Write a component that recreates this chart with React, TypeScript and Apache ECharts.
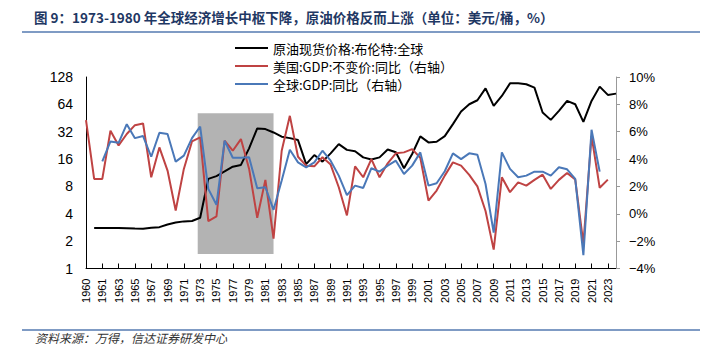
import React, { useEffect, useRef } from 'react';
import * as echarts from 'echarts';

const years = [
  '1959', '1960', '1961', '1962', '1963', '1964', '1965', '1966', '1967', '1968',
  '1969', '1970', '1971', '1972', '1973', '1974', '1975', '1976', '1977', '1978',
  '1979', '1980', '1981', '1982', '1983', '1984', '1985', '1986', '1987', '1988',
  '1989', '1990', '1991', '1992', '1993', '1994', '1995', '1996', '1997', '1998',
  '1999', '2000', '2001', '2002', '2003', '2004', '2005', '2006', '2007', '2008',
  '2009', '2010', '2011', '2012', '2013', '2014', '2015', '2016', '2017', '2018',
  '2019', '2020', '2021', '2022', '2023', '2024',
];

// 原油现货价格:布伦特:全球 (美元/桶, left log axis)
const brent = [
  null, 2.79, 2.79, 2.79, 2.79, 2.77, 2.75, 2.74, 2.81, 2.85,
  3.05, 3.2, 3.3, 3.33, 3.62, 9.7, 10.4, 11.7, 13.2, 13.8,
  21, 34.8, 34.2, 31.4, 28.2, 27.2, 25.9, 14.1, 17.7, 15.0,
  18.5, 23.4, 20.2, 19.5, 16.7, 15.8, 16.7, 20.4, 19.0, 12.7,
  18.2, 28.4, 24.4, 24.8, 28.6, 38.8, 53.4, 64.2, 71.0, 96.1,
  61.6, 79.2, 109, 109, 106.4, 97.8, 52.0, 43.2, 54.3, 69.8,
  64.2, 41.1, 69.8, 100.3, 81.3, 84.0,
];

// 美国:GDP:不变价:同比 (%, right axis)
const usGdp = [
  6.84, 2.55, 2.55, 6.07, 5.0, 5.83, 6.48, 6.6, 2.67, 4.85,
  3.16, 0.24, 3.28, 5.29, 5.58, -0.53, -0.19, 5.34, 4.61, 5.46,
  3.3, -0.29, 2.48, -1.82, 4.61, 7.16, 4.17, 3.52, 3.47, 4.13,
  3.6, 1.94, -0.12, 3.47, 2.67, 4.0, 2.67, 3.69, 4.42, 4.49,
  4.73, 4.1, 0.97, 1.7, 2.79, 3.76, 3.52, 2.85, 2.0, 0.2,
  -2.62, 2.67, 1.58, 2.3, 2.06, 2.48, 2.86, 1.82, 2.48, 2.98,
  2.5, -2.18, 5.7, 1.9, 2.5, null,
];

// 全球:GDP:同比 (%, right axis)
const worldGdp = [
  null, null, 3.83, 5.29, 5.19, 6.55, 5.53, 5.68, 4.17, 5.92,
  5.83, 3.81, 4.25, 5.53, 6.38, 1.82, 0.66, 5.34, 4.1, 4.1,
  4.13, 1.87, 1.94, 0.29, 2.43, 4.68, 3.76, 3.4, 3.76, 4.61,
  3.88, 2.79, 1.36, 2.06, 1.89, 3.33, 3.08, 3.52, 3.88, 2.91,
  3.52, 4.49, 2.06, 2.23, 3.11, 4.42, 4.0, 4.42, 4.32, 2.18,
  -1.38, 4.49, 3.28, 2.67, 2.79, 3.08, 3.08, 2.79, 3.4, 3.25,
  2.55, -3.03, 6.14, 3.08, null, null,
];

// shaded period: [startYear, topValue(left axis), endYear, bottomValue(left axis)]
const shadeBox = [1972.7, 51, 1982.0, 1.445];

const seriesNames = [
  '原油现货价格:布伦特:全球',
  '美国:GDP:不变价:同比（右轴）',
  '全球:GDP:同比（右轴）',
];

const titleText = '图 9：1973-1980 年全球经济增长中枢下降，原油价格反而上涨（单位：美元/桶，%）';
const sourceText = '资料来源：万得，信达证券研发中心';

export default function App() {
  const ref = useRef<HTMLDivElement>(null);
  useEffect(() => {
    document.body.style.margin = '0';
    const chart = echarts.init(ref.current as HTMLDivElement, null, { renderer: 'svg' });
    const numFont = '"Liberation Sans", Arial, sans-serif';
    const cjkFont = '"Noto Sans CJK SC", sans-serif';
    chart.setOption({
      animation: false,
      backgroundColor: '#ffffff',
      grid: { left: 86, right: 88, top: 77, bottom: 81.5, containLabel: false },
      legend: {
        data: seriesNames,
        orient: 'vertical',
        left: 230,
        top: 36,
        itemWidth: 33,
        itemHeight: 2,
        icon: 'rect',
        itemGap: 4,
        textStyle: { fontSize: 13, lineHeight: 14, color: '#000', fontFamily: cjkFont },
      },
      xAxis: [
        {
          type: 'category',
          data: years,
          boundaryGap: false,
          axisLine: { onZero: false, lineStyle: { color: '#000', width: 1 } },
          axisTick: { show: true, inside: true, length: 5, interval: 1, lineStyle: { color: '#000' } },
          axisLabel: {
            interval: 1,
            rotate: 90,
            fontSize: 11,
            color: '#000',
            fontFamily: numFont,
            margin: 10,
            formatter: (v: string, i: number) => (i === 0 ? '1960' : v),
          },
          splitLine: { show: false },
        },
        { type: 'value', min: 1959, max: 2024, show: false },
      ],
      yAxis: [
        {
          type: 'log',
          logBase: 2,
          min: 1,
          max: 128,
          splitNumber: 7,
          position: 'left',
          axisLine: { show: true, lineStyle: { color: '#000' } },
          axisTick: { show: false },
          axisLabel: { fontSize: 14, color: '#000', margin: 13, fontFamily: numFont },
          splitLine: { show: false },
        },
        {
          type: 'value',
          min: -4,
          max: 10,
          interval: 2,
          position: 'right',
          axisLine: { show: true, lineStyle: { color: '#999' } },
          axisTick: { show: true, length: 4, lineStyle: { color: '#999' } },
          axisLabel: {
            fontSize: 13,
            color: '#000',
            margin: 13,
            fontFamily: numFont,
            formatter: (v: number) => (v < 0 ? '\u2212' + Math.abs(v) : String(v)) + '%',
          },
          splitLine: { show: false },
        },
      ],
      series: [
        {
          type: 'custom',
          xAxisIndex: 1,
          yAxisIndex: 0,
          silent: true,
          z: 1,
          encode: { x: [0, 2], y: [1, 3] },
          data: [shadeBox],
          renderItem: (params: any, api: any) => {
            const p0 = api.coord([api.value(0), api.value(1)]);
            const p1 = api.coord([api.value(2), api.value(3)]);
            return {
              type: 'rect',
              shape: { x: p0[0], y: p0[1], width: p1[0] - p0[0], height: p1[1] - p0[1] },
              style: { fill: '#b3b3b3' },
            };
          },
        },
        {
          name: seriesNames[0],
          type: 'line',
          xAxisIndex: 0,
          yAxisIndex: 0,
          data: brent,
          symbol: 'none',
          z: 3,
          lineStyle: { color: '#000000', width: 2 },
          itemStyle: { color: '#000000' },
        },
        {
          name: seriesNames[1],
          type: 'line',
          xAxisIndex: 0,
          yAxisIndex: 1,
          data: usGdp,
          symbol: 'none',
          z: 3,
          lineStyle: { color: '#bf4343', width: 2 },
          itemStyle: { color: '#bf4343' },
        },
        {
          name: seriesNames[2],
          type: 'line',
          xAxisIndex: 0,
          yAxisIndex: 1,
          data: worldGdp,
          symbol: 'none',
          z: 3,
          lineStyle: { color: '#4a78b8', width: 2 },
          itemStyle: { color: '#4a78b8' },
        },
      ],
      graphic: [
        {
          type: 'text',
          left: 34,
          top: 10,
          style: { text: titleText, font: 'bold 13.5px "Noto Sans CJK SC", sans-serif', fill: '#1f3864' },
        },
        {
          type: 'line',
          shape: { x1: 22, y1: 32, x2: 700, y2: 32 },
          style: { stroke: '#7f9bc4', lineWidth: 2 },
        },
        {
          type: 'line',
          shape: { x1: 22, y1: 330, x2: 700, y2: 330 },
          style: { stroke: '#7f9bc4', lineWidth: 2 },
        },
        {
          type: 'text',
          left: 35,
          top: 331,
          style: { text: sourceText, font: 'italic 12px "Noto Sans CJK SC", sans-serif', fill: '#333' },
        },
      ],
    });
    return () => chart.dispose();
  }, []);
  return <div ref={ref} style={{ position: 'absolute', left: 0, top: 0, width: 704, height: 350 }} />;
}
